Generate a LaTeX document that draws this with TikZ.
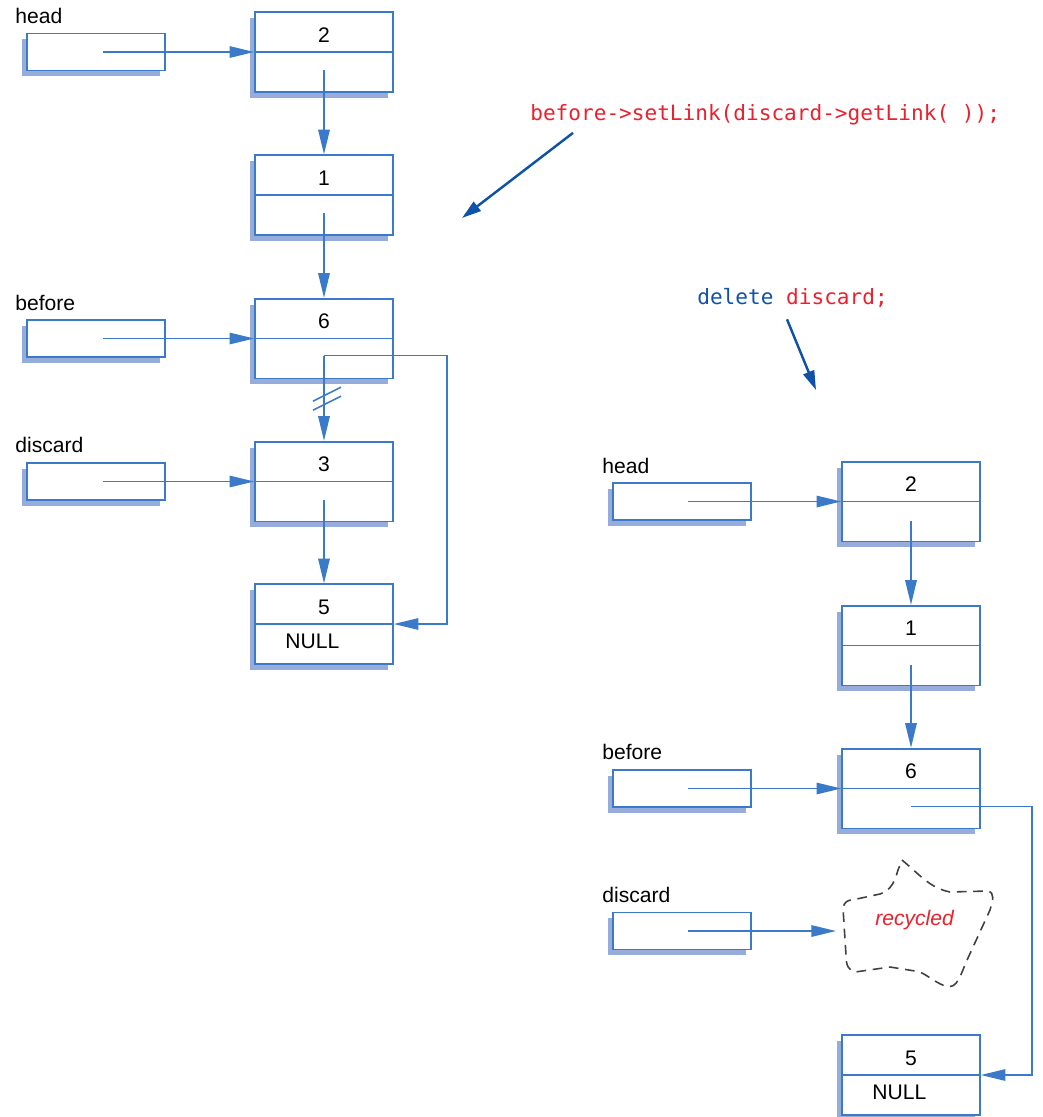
\documentclass[tikz,border=0pt]{standalone}
\usepackage{fontspec}
\setmainfont{Liberation Sans}
\setmonofont{DejaVu Sans Mono}
\usetikzlibrary{arrows.meta,calc,shadows}
\definecolor{lineblue}{RGB}{58,122,200}
\definecolor{shadowblue}{RGB}{150,172,218}
\definecolor{calloutblue}{RGB}{16,82,168}
\definecolor{codered}{RGB}{236,32,44}
\tikzset{
  cell/.style={draw=lineblue, fill=white, line width=0.95pt, minimum width=2.76cm,
    inner sep=0pt, text height=17pt, text depth=28.35pt,
    general shadow={fill=shadowblue, shadow xshift=-2.8pt, shadow yshift=-3.4pt}},
  ptr/.style={draw=lineblue, fill=white, line width=0.95pt, minimum width=2.76cm,
    minimum height=0.74cm, inner sep=0pt,
    general shadow={fill=shadowblue, shadow xshift=-2.8pt, shadow yshift=-3.4pt}},
  lbl/.style={anchor=base west, inner sep=0pt},
  code/.style={lbl, font=\ttfamily\fontsize{12pt}{14pt}\selectfont},
  lnk/.style={draw=lineblue, line width=0.95pt, -{Triangle[length=14pt,width=6.5pt]}},
  split/.style={draw=lineblue, line width=0.95pt},
  callout/.style={draw=calloutblue, line width=1.4pt, -{Triangle[length=11pt,width=6.5pt]}}
}

\begin{document}
\begin{tikzpicture}[x=0.02cm, y=-0.02cm, font=\fontsize{12pt}{14pt}\selectfont]
  \useasboundingbox (0,0) rectangle (1043,1117);

  \node[cell] (l2) at (324,52) {2};
  \node[cell] (l1) at (324,195) {1};
  \node[cell] (l6) at (324,338.5) {6};
  \node[cell] (l3) at (324,481.5) {3};
  \node[cell] (l5) at (324,624) {5};
  \foreach \c in {l2,l1,l6,l3,l5} \draw[split] (\c.west) -- (\c.east);
  \node[lbl] (lnull) at ($(l5.center)+(-39,24)$) {NULL};

  \node[ptr] (lhead) at (96,52) {};
  \node[ptr] (lbefore) at (96,338.5) {};
  \node[ptr] (ldiscard) at (96,481.5) {};
  \node[lbl] (lheadt) at (15,23) {head};
  \node[lbl] (lbeforet) at (15,310) {before};
  \node[lbl] (ldiscardt) at (15,452) {discard};

  \draw[lnk] ($(lhead.center)+(7,0)$) -- (l2.west);
  \draw[lnk] ($(lbefore.center)+(7,0)$) -- (l6.west);
  \draw[lnk] ($(ldiscard.center)+(7,0)$) -- (l3.west);
  \draw[lnk] ($(l2.center)+(0,18)$) -- (l1.north);
  \draw[lnk] ($(l1.center)+(0,18)$) -- (l6.north);
  \draw[lnk] ($(l6.center)+(0,17)$) -- (l3.north);
  \draw[lnk] ($(l3.center)+(0,18)$) -- (l5.north);
  \draw[lnk] ($(l6.center)+(0,17)$) -- ++(123,0) |- (l5.east);
  \draw[split] ($(l6.south)+(-11,22)$) -- ++(28,-14);
  \draw[split] ($(l6.south)+(-11,31)$) -- ++(28,-14);

  \node[code, text=codered] (setlink) at (530,120) {before->setLink(discard->getLink( ));};
  \coordinate (tgt1) at (462,218);
  \draw[callout] ($(setlink.south west)+(43,8)$) -- (tgt1);

  \node[code] (del) at (697,304) {\textcolor{calloutblue}{delete} \textcolor{codered}{discard;}};
  \coordinate (tgt2) at (816,390);
  \draw[callout] ($(del.south west)+(90,12)$) -- (tgt2);

  \node[cell] (r2) at (911,501.5) {2};
  \node[cell] (r1) at (911,645.5) {1};
  \node[cell] (r6) at (911,788.5) {6};
  \node[cell] (r5) at (911,1075) {5};
  \foreach \c in {r2,r1,r6,r5} \draw[split] (\c.west) -- (\c.east);
  \node[lbl] (rnull) at ($(r5.center)+(-39,24)$) {NULL};

  \node[ptr] (rhead) at (682,501.5) {};
  \node[ptr] (rbefore) at (682,788.5) {};
  \node[ptr] (rdiscard) at (682,931) {};
  \node[lbl] (rheadt) at (602,473) {head};
  \node[lbl] (rbeforet) at (602,759) {before};
  \node[lbl] (rdiscardt) at (602,902) {discard};

  \draw[lnk] ($(rhead.center)+(6,0)$) -- (r2.west);
  \draw[lnk] ($(rbefore.center)+(6,0)$) -- (r6.west);
  \draw[lnk] ($(r2.center)+(0,19)$) -- (r1.north);
  \draw[lnk] ($(r1.center)+(0,19)$) -- (r6.north);
  \draw[lnk] ($(r6.center)+(0,18)$) -- ++(121,0) |- (r5.east);

  \node[lbl, font=\itshape\fontsize{12pt}{14pt}\selectfont, text=codered] (rec) at (875,925) {recycled};
  \draw[black!75, line width=0.9pt, dash pattern=on 5.5pt off 3.8pt]
    (902,860) .. controls (920,875) and (930,888) .. (950,892) -- (988,891)
    .. controls (995,893) and (993,900) .. (990,910) -- (968,958)
    .. controls (960,975) and (958,990) .. (945,986)
    .. controls (930,980) and (925,972) .. (915,971) -- (890,967) -- (855,972)
    .. controls (848,970) and (846,965) .. (846,955) -- (843,908)
    .. controls (844,902) and (848,900) .. (852,900) -- (880,894)
    .. controls (892,890) and (895,880) .. (898,870) -- cycle;
  \coordinate (cl) at (836,931);
  \draw[lnk] ($(rdiscard.center)+(6,0)$) -- (cl);
\end{tikzpicture}
\end{document}
